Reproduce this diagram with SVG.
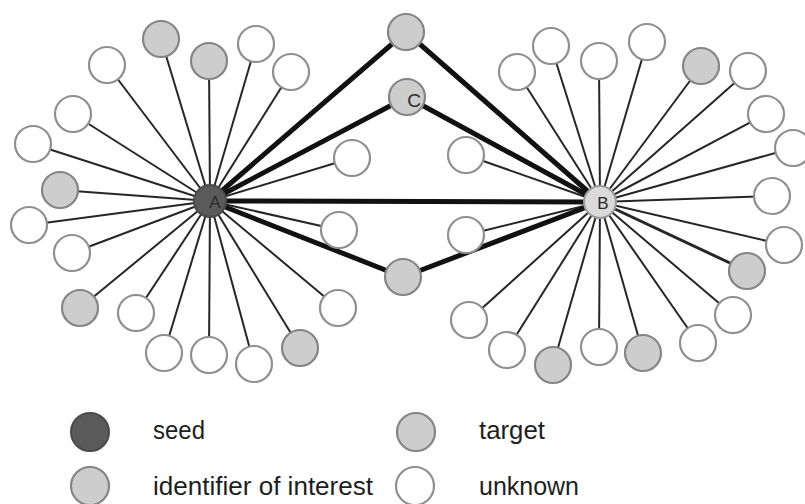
<svg xmlns="http://www.w3.org/2000/svg" width="805" height="504" viewBox="0 0 805 504">
<style>
.thin{stroke:#262626;stroke-width:2;fill:none}
.thick{stroke:#111;stroke-width:5;fill:none;stroke-linecap:round}
.w{fill:#fff;stroke:#8f8f8f;stroke-width:2.2}
.g{fill:#cdcdcd;stroke:#858585;stroke-width:2.2}
.seed{fill:#5a5a5a;stroke:#4a4a4a;stroke-width:2}
.hubB{fill:#dadada;stroke:#9a9a9a;stroke-width:2}
.lbl{font-family:"Liberation Sans",Arial,sans-serif;fill:#2a2a2a}
.leg{font-family:"Liberation Sans",Arial,sans-serif;font-size:25px;fill:#1e1e1e}
</style>
<rect width="805" height="504" fill="#fff"/>
<g id="connectors">
<g class="thin">
<line x1="210" y1="201" x2="107" y2="65"/>
<line x1="210" y1="201" x2="161" y2="39"/>
<line x1="210" y1="201" x2="209" y2="61"/>
<line x1="210" y1="201" x2="256" y2="44"/>
<line x1="210" y1="201" x2="291" y2="72"/>
<line x1="210" y1="201" x2="73" y2="114"/>
<line x1="210" y1="201" x2="33" y2="144"/>
<line x1="210" y1="201" x2="60" y2="190"/>
<line x1="210" y1="201" x2="352" y2="158"/>
<line x1="210" y1="201" x2="29" y2="225"/>
<line x1="210" y1="201" x2="72" y2="253"/>
<line x1="210" y1="201" x2="80" y2="308"/>
<line x1="210" y1="201" x2="136" y2="313"/>
<line x1="210" y1="201" x2="164" y2="353"/>
<line x1="210" y1="201" x2="209" y2="355"/>
<line x1="210" y1="201" x2="254" y2="364"/>
<line x1="210" y1="201" x2="300" y2="348"/>
<line x1="210" y1="201" x2="338" y2="308"/>
<line x1="210" y1="201" x2="339" y2="230"/>
<line x1="600" y1="202" x2="517" y2="72"/>
<line x1="600" y1="202" x2="551" y2="46"/>
<line x1="600" y1="202" x2="599" y2="61"/>
<line x1="600" y1="202" x2="647" y2="42"/>
<line x1="600" y1="202" x2="701" y2="66"/>
<line x1="600" y1="202" x2="748" y2="71"/>
<line x1="600" y1="202" x2="766" y2="114"/>
<line x1="600" y1="202" x2="793" y2="148"/>
<line x1="600" y1="202" x2="466" y2="155"/>
<line x1="600" y1="202" x2="772" y2="196"/>
<line x1="600" y1="202" x2="784" y2="245"/>
<line x1="600" y1="202" x2="747" y2="271" stroke-width="3"/>
<line x1="600" y1="202" x2="733" y2="315"/>
<line x1="600" y1="202" x2="698" y2="343"/>
<line x1="600" y1="202" x2="643" y2="353"/>
<line x1="600" y1="202" x2="599" y2="347"/>
<line x1="600" y1="202" x2="553" y2="365"/>
<line x1="600" y1="202" x2="507" y2="350"/>
<line x1="600" y1="202" x2="469" y2="320"/>
<line x1="600" y1="202" x2="466" y2="235"/>
</g>
<g class="thick">
<line x1="210" y1="201" x2="600" y2="202"/>
<line x1="210" y1="201" x2="406" y2="32"/>
<line x1="210" y1="201" x2="407" y2="97"/>
<line x1="210" y1="201" x2="403" y2="277"/>
<line x1="600" y1="202" x2="406" y2="32"/>
<line x1="600" y1="202" x2="407" y2="97"/>
<line x1="600" y1="202" x2="403" y2="277"/>
</g>
</g>
<g id="leavesA">
<g id="a1"><circle class="w" cx="107" cy="65" r="18"/></g>
<g id="a2"><circle class="g" cx="161" cy="39" r="18"/></g>
<g id="a3"><circle class="g" cx="209" cy="61" r="18"/></g>
<g id="a4"><circle class="w" cx="256" cy="44" r="18"/></g>
<g id="a5"><circle class="w" cx="291" cy="72" r="18"/></g>
<g id="a6"><circle class="w" cx="73" cy="114" r="18"/></g>
<g id="a7"><circle class="w" cx="33" cy="144" r="18"/></g>
<g id="a8"><circle class="g" cx="60" cy="190" r="18"/></g>
<g id="a9"><circle class="w" cx="352" cy="158" r="18"/></g>
<g id="a10"><circle class="w" cx="29" cy="225" r="18"/></g>
<g id="a11"><circle class="w" cx="72" cy="253" r="18"/></g>
<g id="a12"><circle class="g" cx="80" cy="308" r="18"/></g>
<g id="a13"><circle class="w" cx="136" cy="313" r="18"/></g>
<g id="a14"><circle class="w" cx="164" cy="353" r="18"/></g>
<g id="a15"><circle class="w" cx="209" cy="355" r="18"/></g>
<g id="a16"><circle class="w" cx="254" cy="364" r="18"/></g>
<g id="a17"><circle class="g" cx="300" cy="348" r="18"/></g>
<g id="a18"><circle class="w" cx="338" cy="308" r="18"/></g>
<g id="a19"><circle class="w" cx="339" cy="230" r="18"/></g>
</g>
<g id="leavesB">
<g id="b1"><circle class="w" cx="517" cy="72" r="18"/></g>
<g id="b2"><circle class="w" cx="551" cy="46" r="18"/></g>
<g id="b3"><circle class="w" cx="599" cy="61" r="18"/></g>
<g id="b4"><circle class="w" cx="647" cy="42" r="18"/></g>
<g id="b5"><circle class="g" cx="701" cy="66" r="18"/></g>
<g id="b6"><circle class="w" cx="748" cy="71" r="18"/></g>
<g id="b7"><circle class="w" cx="766" cy="114" r="18"/></g>
<g id="b8"><circle class="w" cx="793" cy="148" r="18"/></g>
<g id="b9"><circle class="w" cx="466" cy="155" r="18"/></g>
<g id="b10"><circle class="w" cx="772" cy="196" r="18"/></g>
<g id="b11"><circle class="w" cx="784" cy="245" r="18"/></g>
<g id="b12"><circle class="g" cx="747" cy="271" r="18"/></g>
<g id="b13"><circle class="w" cx="733" cy="315" r="18"/></g>
<g id="b14"><circle class="w" cx="698" cy="343" r="18"/></g>
<g id="b15"><circle class="g" cx="643" cy="353" r="18"/></g>
<g id="b16"><circle class="w" cx="599" cy="347" r="18"/></g>
<g id="b17"><circle class="g" cx="553" cy="365" r="18"/></g>
<g id="b18"><circle class="w" cx="507" cy="350" r="18"/></g>
<g id="b19"><circle class="w" cx="469" cy="320" r="18"/></g>
<g id="b20"><circle class="w" cx="466" cy="235" r="18"/></g>
</g>
<g id="top"><circle class="g" cx="406" cy="32" r="18"/></g>
<g id="C"><circle class="g" cx="407" cy="97" r="18"/><text class="lbl" x="414" y="107" font-size="19" text-anchor="middle">C</text></g>
<g id="bottom"><circle class="g" cx="403" cy="277" r="18"/></g>
<g id="A"><circle class="seed" cx="210" cy="201" r="16"/><text class="lbl" x="215" y="208" font-size="17" text-anchor="middle" fill="#2e2e2e">A</text></g>
<g id="B"><circle class="hubB" cx="600" cy="202" r="16"/><text class="lbl" x="603" y="209" font-size="17" text-anchor="middle">B</text></g>
<g id="legend">
<g id="leg-seed"><circle class="seed" cx="90" cy="432" r="19"/><text class="leg" x="153" y="439" textLength="52" lengthAdjust="spacingAndGlyphs">seed</text></g>
<g id="leg-ioi"><circle class="g" cx="90" cy="486" r="19"/><text class="leg" x="153" y="495" textLength="220" lengthAdjust="spacingAndGlyphs">identifier of interest</text></g>
<g id="leg-target"><circle class="g" cx="416" cy="432" r="19"/><text class="leg" x="479" y="439" textLength="66" lengthAdjust="spacingAndGlyphs">target</text></g>
<g id="leg-unknown"><circle class="w" cx="415" cy="486" r="19"/><text class="leg" x="479" y="495" textLength="100" lengthAdjust="spacingAndGlyphs">unknown</text></g>
</g>
</svg>
